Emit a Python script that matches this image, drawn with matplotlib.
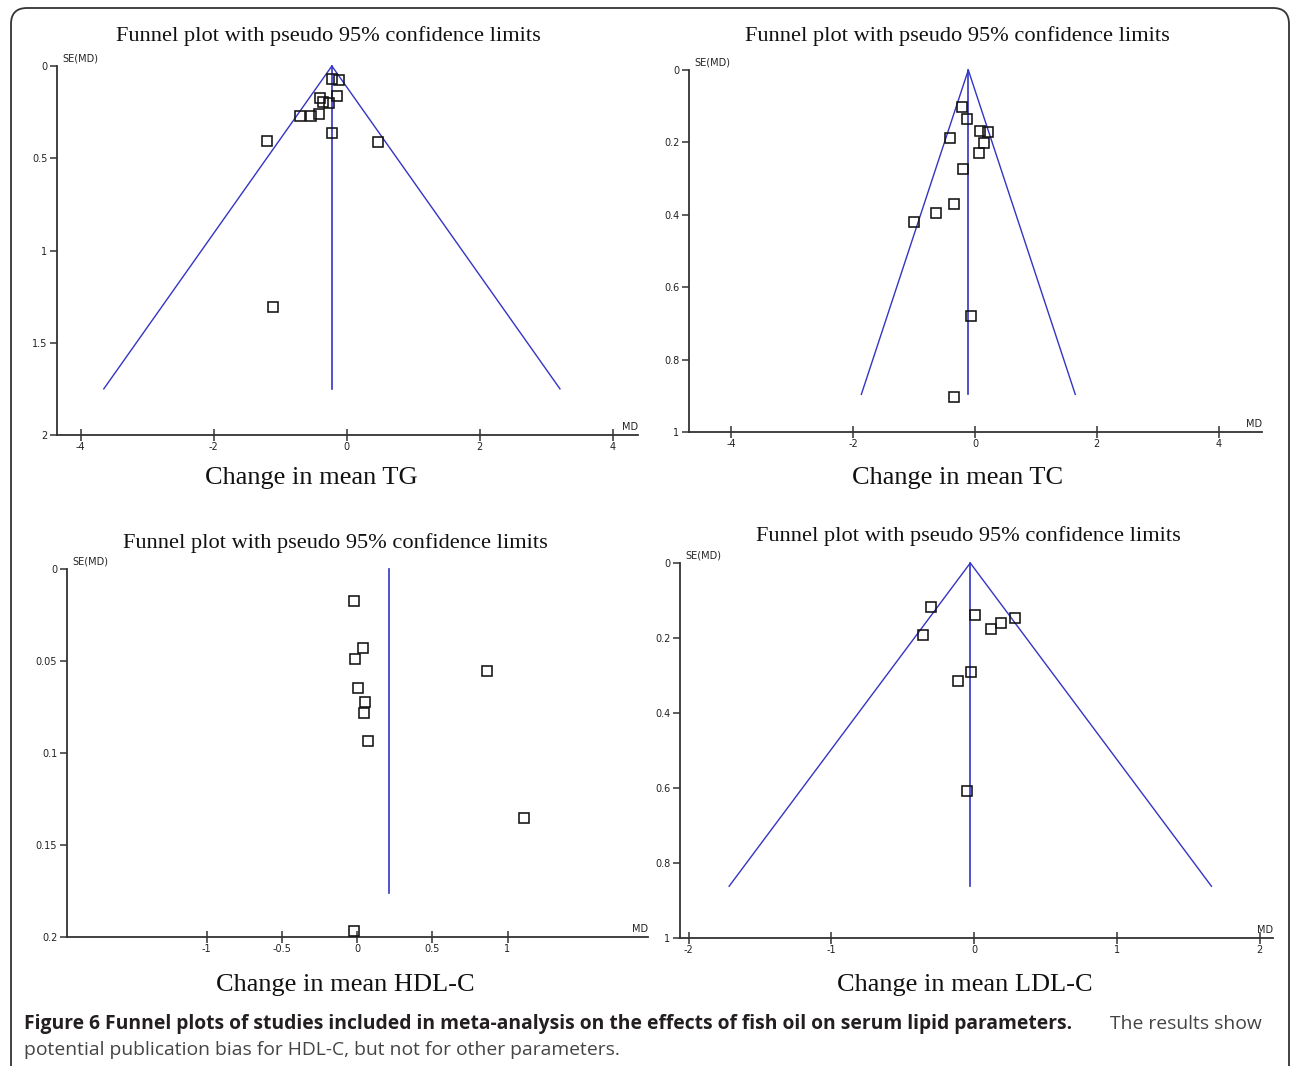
import matplotlib
matplotlib.use("Agg")
import matplotlib.pyplot as plt
from matplotlib.patches import FancyBboxPatch
from matplotlib.transforms import IdentityTransform
import numpy as np

W, H = 1290, 1066

# ---------------- data ----------------
# TG panel
tg_md = [-0.22, -0.11, -0.40, -0.14, -0.36, -0.26, -0.70, -0.53, -0.42, -0.22, -1.19, 0.48, -1.10]
tg_se = [0.070, 0.076, 0.173, 0.163, 0.197, 0.200, 0.271, 0.273, 0.260, 0.365, 0.407, 0.414, 1.308]
tg_center = -0.22
tg_semax = 1.75
tg_xticks = [-4, -2, 0, 2, 4]
tg_yticks = [0, 0.5, 1, 1.5, 2]
tg_yticklabels = ["0", "0.5", "1", "1.5", "2"]

# TC panel
tc_md = [-0.21, -0.13, 0.09, 0.21, -0.41, 0.14, 0.07, -0.19, -0.34, -0.64, -1.00, -0.06, -0.34]
tc_se = [0.101, 0.135, 0.168, 0.170, 0.187, 0.203, 0.229, 0.274, 0.370, 0.396, 0.419, 0.680, 0.902]
tc_center = -0.11
tc_semax = 0.896
tc_xticks = [-4, -2, 0, 2, 4]
tc_yticks = [0, 0.2, 0.4, 0.6, 0.8, 1]
tc_yticklabels = ["0", "0.2", "0.4", "0.6", "0.8", "1"]

# HDL-C panel
hdl_md = [-0.018, 0.037, -0.012, 0.867, 0.008, 0.055, 0.046, 0.075, 1.112, -0.018]
hdl_se = [0.0172, 0.0428, 0.0487, 0.0552, 0.0648, 0.0721, 0.0781, 0.0935, 0.1354, 0.1970]
hdl_center = 0.215
hdl_semax = 0.176
hdl_xticks = [-1, -0.5, 0, 0.5, 1]
hdl_xticklabels = ["-1", "-0.5", "0", "0.5", "1"]
hdl_yticks = [0, 0.05, 0.1, 0.15, 0.2]
hdl_yticklabels = ["0", "0.05", "0.1", "0.15", "0.2"]

# LDL-C panel
ldl_md = [-0.30, 0.01, 0.29, 0.19, 0.12, -0.36, -0.02, -0.11, -0.05]
ldl_se = [0.117, 0.138, 0.146, 0.161, 0.175, 0.191, 0.290, 0.314, 0.607]
ldl_center = -0.026
ldl_semax = 0.862
ldl_xticks = [-2, -1, 0, 1, 2]
ldl_yticks = [0, 0.2, 0.4, 0.6, 0.8, 1]
ldl_yticklabels = ["0", "0.2", "0.4", "0.6", "0.8", "1"]

title_text = "Funnel plot with pseudo 95% confidence limits"
panel_labels = ["Change in mean TG", "Change in mean TC",
                "Change in mean HDL-C", "Change in mean LDL-C"]
caption_bold = ("Figure 6 Funnel plots of studies included in meta-analysis on the "
                "effects of fish oil on serum lipid parameters.")
caption_reg1 = "The results show"
caption_reg2 = "potential publication bias for HDL-C, but not for other parameters."

# ---------------- figure ----------------
fig = plt.figure(figsize=(W / 100, H / 100), dpi=100)
fig.patch.set_facecolor("white")

BLUE = "#3434c4"
AXC = "#333333"


def rect(l, t, r, b):
    return [l / W, 1 - b / H, (r - l) / W, (b - t) / H]


def fx(x):
    return x / W


def fy(y):
    return 1 - y / H


def panel(box, xlim, ylim, md, se, center, semax, xticks, xticklabels,
          yticks, yticklabels, sides=True):
    ax = fig.add_axes(rect(*box))
    ax.set_xlim(*xlim)
    ax.set_ylim(ylim, 0)
    for s in ["top", "right"]:
        ax.spines[s].set_visible(False)
    for s in ["left", "bottom"]:
        ax.spines[s].set_linewidth(1.3)
        ax.spines[s].set_color(AXC)
    ax.set_xticks(xticks)
    ax.set_xticklabels(xticklabels)
    ax.set_yticks(yticks)
    ax.set_yticklabels(yticklabels)
    ax.tick_params(axis="x", direction="inout", length=8, width=1.1, color=AXC,
                   labelsize=7, pad=1, labelcolor="#222222")
    ax.tick_params(axis="y", direction="out", length=5, width=1.1, color=AXC,
                   labelsize=7, pad=2, labelcolor="#222222")
    ax.patch.set_alpha(0)
    # funnel
    ax.plot([center, center], [0, semax], color=BLUE, lw=1.2, zorder=2, clip_on=False)
    if sides:
        ax.plot([center - 1.96 * semax, center, center + 1.96 * semax],
                [semax, 0, semax], color=BLUE, lw=1.0, zorder=2, clip_on=False)
    ax.plot(md, se, linestyle="none", marker="s", markersize=7.8,
            markerfacecolor="none", markeredgecolor="#111111",
            markeredgewidth=1.15, zorder=3, clip_on=False)
    ax.annotate("SE(MD)", xy=(0, 1), xycoords="axes fraction",
                xytext=(4, 2), textcoords="offset points",
                ha="left", va="bottom", fontsize=7, color="#222222")
    ax.annotate("MD", xy=(1, 0), xycoords="axes fraction",
                xytext=(0, 2), textcoords="offset points",
                ha="right", va="bottom", fontsize=7, color="#222222")
    return ax


panel((57, 66, 638, 435), ((57 - 346.5) / 66.5, (638 - 346.5) / 66.5), 2,
      tg_md, tg_se, tg_center, tg_semax, tg_xticks, [str(v) for v in tg_xticks],
      tg_yticks, tg_yticklabels)
panel((689, 70, 1262, 432), ((689 - 975) / 60.9, (1262 - 975) / 60.9), 1,
      tc_md, tc_se, tc_center, tc_semax, tc_xticks, [str(v) for v in tc_xticks],
      tc_yticks, tc_yticklabels)
panel((67, 569, 648, 937), ((67 - 357) / 150.5, (648 - 357) / 150.5), 0.2,
      hdl_md, hdl_se, hdl_center, hdl_semax, hdl_xticks, hdl_xticklabels,
      hdl_yticks, hdl_yticklabels, sides=False)
panel((680, 563, 1273, 938), ((680 - 974) / 142.75, (1273 - 974) / 142.75), 1,
      ldl_md, ldl_se, ldl_center, ldl_semax, ldl_xticks, [str(v) for v in ldl_xticks],
      ldl_yticks, ldl_yticklabels)

serif = ["Liberation Serif", "DejaVu Serif"]
for (x, y) in [(328, 36), (957, 36), (335, 543), (968, 536)]:
    fig.text(fx(x), fy(y), title_text, ha="center", va="center",
             family=serif, fontsize=16.1, color="#111111")
for (x, y), lab in zip([(311, 478), (958, 478), (345, 985), (965, 985)], panel_labels):
    fig.text(fx(x), fy(y), lab, ha="center", va="center",
             family=serif, fontsize=19, color="#111111")

sans = ["Open Sans", "DejaVu Sans"]
fig.text(fx(24), fy(1024), caption_bold, ha="left", va="center",
         family=sans, fontweight="bold", fontsize=13.9, color="#231f20")
fig.text(fx(1262), fy(1024), caption_reg1, ha="right", va="center",
         family=sans, fontsize=13.9, color="#444444")
fig.text(fx(24), fy(1050), caption_reg2, ha="left", va="center",
         family=sans, fontsize=13.9, color="#444444")

# rounded border
border = FancyBboxPatch((11, -30), 1289 - 11, (H - 8) + 30,
                        boxstyle="round,pad=0,rounding_size=16",
                        transform=IdentityTransform(), fill=False,
                        edgecolor="#333333", linewidth=1.3)
fig.add_artist(border)

fig.savefig("out.png", dpi=100, facecolor="white")
